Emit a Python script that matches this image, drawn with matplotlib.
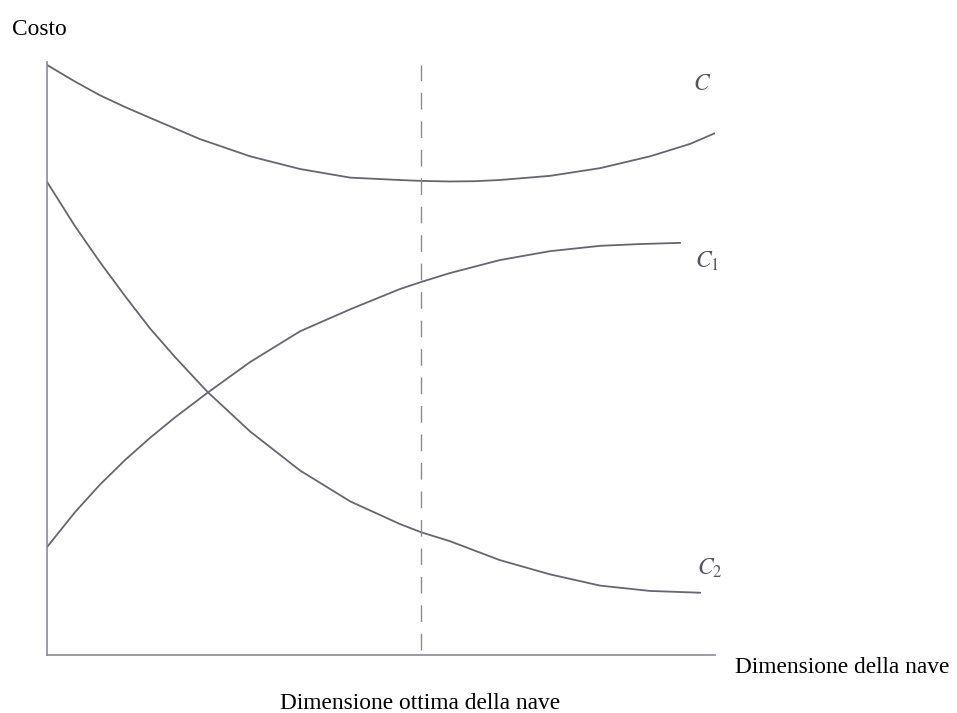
import matplotlib
matplotlib.use("Agg")
import matplotlib.pyplot as plt

# ---- data (arbitrary units 0..100) ----
c_x = [0, 4.2, 7.9, 11.7, 15.4, 22.9, 30.4, 37.9, 45.4, 52.8, 56.0, 60.3,
       64.1, 67.8, 75.3, 82.8, 90.3, 96.3, 100]
c_y = [99.5, 96.7, 94.4, 92.4, 90.6, 87.0, 84.1, 81.95, 80.5, 80.1, 79.95,
       79.85, 79.9, 80.1, 80.8, 82.1, 84.1, 86.2, 88.0]

c1_x = [0, 4.2, 7.9, 11.7, 15.4, 19.2, 24.0, 30.4, 37.9, 45.4, 52.8, 56.0,
        60.3, 67.8, 75.3, 82.8, 88.8, 94.8]
c1_y = [18.2, 24.1, 28.7, 32.9, 36.6, 40.1, 44.2, 49.4, 54.6, 58.3, 61.7,
        62.9, 64.4, 66.6, 68.1, 69.0, 69.3, 69.5]

c2_x = [0, 4.2, 7.9, 11.7, 15.4, 19.2, 24.0, 30.4, 37.9, 45.4, 52.8, 56.0,
        60.3, 67.8, 75.3, 82.8, 90.3, 97.8]
c2_y = [79.8, 72.3, 66.3, 60.5, 55.1, 50.2, 44.4, 37.7, 31.1, 25.9, 22.1,
        20.7, 19.2, 16.0, 13.6, 11.7, 10.8, 10.5]

optimum_x = 56.0
optimum_y = [0.8, 99.5]

curve_labels = ["$C$", "$C_1$", "$C_2$"]
y_label = "Costo"
x_label = "Dimensione della nave"
optimum_label = "Dimensione ottima della nave"

W, H = 957, 713
fig = plt.figure(figsize=(W / 100, H / 100), dpi=100)
fig.patch.set_facecolor("white")
plt.rcParams["mathtext.fontset"] = "stix"

ax = fig.add_axes([47 / W, (H - 655) / H, 668 / W, 593 / H])
ax.set_xlim(0, 100)
ax.set_ylim(0, 100)
for s in ["top", "right"]:
    ax.spines[s].set_visible(False)
for s in ["left", "bottom"]:
    ax.spines[s].set_color("#8a8a92")
    ax.spines[s].set_linewidth(1.2)
ax.set_xticks([])
ax.set_yticks([])

line_col = "#66666f"
for xs, ys in [(c_x, c_y), (c1_x, c1_y), (c2_x, c2_y)]:
    ax.plot(xs, ys, color=line_col, lw=1.3, solid_joinstyle="round",
            solid_capstyle="round")
ax.plot([optimum_x, optimum_x], optimum_y, color="#8a8a92", lw=1.0,
        dashes=(12, 8.5))

serif = ["Liberation Serif", "DejaVu Serif"]
fs = 16.8

# curve labels (positions in figure pixels)
lab_pos = [(693, 90), (695, 268), (697, 575)]
for t, (px, py) in zip(curve_labels, lab_pos):
    fig.text(px / W, 1 - py / H, t, fontsize=17, color="#55555e",
             ha="left", va="baseline")

fig.text(12 / W, 1 - 35 / H, y_label, fontsize=fs, family=serif,
         ha="left", va="baseline")
fig.text(735 / W, 1 - 673 / H, x_label, fontsize=fs, family=serif,
         ha="left", va="baseline")
fig.text(280 / W, 1 - 709 / H, optimum_label, fontsize=fs, family=serif,
         ha="left", va="baseline")

fig.savefig("out.png", dpi=100, facecolor="white")
